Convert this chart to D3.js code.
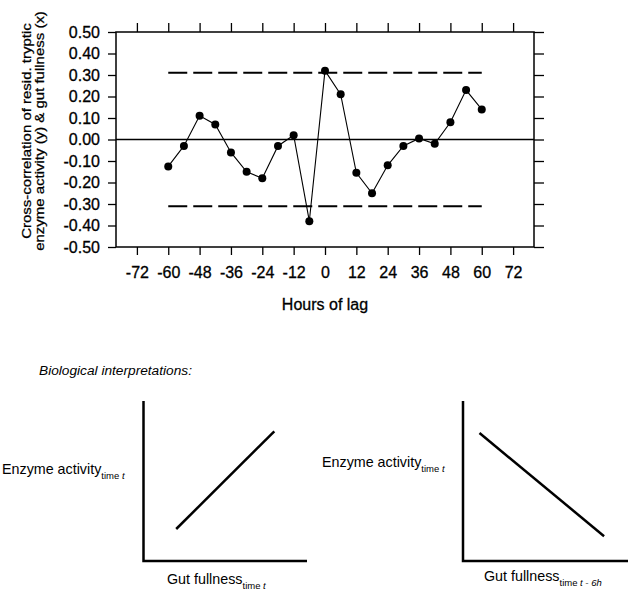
<!DOCTYPE html>
<html>
<head>
<meta charset="utf-8">
<script src="https://cdn.jsdelivr.net/npm/d3@7"></script>
<style>
  html, body { margin: 0; padding: 0; background: #fff; }
  svg { display: block; font-family: "Liberation Sans", Arial, sans-serif; }
  .ink { stroke: #000; stroke-width: 0.3px; }
</style>
</head>
<body>
<svg id="chart" width="640" height="590"></svg>
<script>
// Cross-correlation by lag (hours)
const lags = [-60, -54, -48, -42, -36, -30, -24, -18, -12, -6, 0, 6, 12, 18, 24, 30, 36, 42, 48, 54, 60];
const crossCorr = [-0.125, -0.03, 0.11, 0.07, -0.06, -0.15, -0.18, -0.03, 0.02, -0.38, 0.32, 0.21, -0.155, -0.25, -0.12, -0.03, 0.005, -0.02, 0.08, 0.23, 0.14];
const confidenceBound = 0.31;
const boundLags = [-60, 60];
const xTickValues = [-72, -60, -48, -36, -24, -12, 0, 12, 24, 36, 48, 60, 72];
const yTickValues = [0.5, 0.4, 0.3, 0.2, 0.1, 0, -0.1, -0.2, -0.3, -0.4, -0.5];
const yTitleLines = ["Cross-correlation of resid. tryptic", "enzyme activity (y) & gut fullness (x)"];

// Schematic relationships (unitless 0..1)
const positiveLine = [[0.2, 0.2], [0.8, 0.81]];
const negativeLine = [[0.1, 0.8], [0.855, 0.155]];

const svg = d3.select("#chart");
const fontMain = "16px";

// ---------- Correlogram ----------
const x = d3.scaleLinear().domain([-80, 80]).range([116, 534]);
const y = d3.scaleLinear().domain([-0.5, 0.5]).range([247, 32]);

const plot = svg.append("g");

// axes with outward ticks on all four sides
const axLeft = plot.append("g").attr("transform", `translate(${x(-80)},0)`)
  .call(d3.axisLeft(y).tickValues(yTickValues).tickSize(8).tickPadding(8)
    .tickFormat(d => d.toFixed(2)));
const axRight = plot.append("g").attr("transform", `translate(${x(80)},0)`)
  .call(d3.axisRight(y).tickValues(yTickValues).tickSize(10).tickFormat(""));
const axTop = plot.append("g").attr("transform", `translate(0,${y(0.5)})`)
  .call(d3.axisTop(x).tickValues(xTickValues).tickSize(9).tickFormat(""));
const axBottom = plot.append("g").attr("transform", `translate(0,${y(-0.5)})`)
  .call(d3.axisBottom(x).tickValues(xTickValues).tickSize(8).tickPadding(12)
    .tickFormat(d => String(d)));

[axLeft, axRight, axTop, axBottom].forEach(g => {
  g.select(".domain").remove();
  g.selectAll(".tick line").attr("stroke", "#000").attr("stroke-width", 1.3);
  g.selectAll(".tick text").attr("fill", "#000").attr("class", "ink")
    .style("font-size", fontMain).style("font-family", "Liberation Sans, Arial, sans-serif");
});

// frame
plot.append("rect")
  .attr("x", x(-80)).attr("y", y(0.5))
  .attr("width", x(80) - x(-80)).attr("height", y(-0.5) - y(0.5))
  .attr("fill", "none").attr("stroke", "#000").attr("stroke-width", 1.5);

// zero reference
plot.append("line")
  .attr("x1", x(-80)).attr("x2", x(80))
  .attr("y1", y(0)).attr("y2", y(0))
  .attr("stroke", "#000").attr("stroke-width", 1.5);

// significance bounds
[confidenceBound, -confidenceBound].forEach(b => {
  plot.append("line")
    .attr("x1", x(boundLags[0])).attr("x2", x(boundLags[1]))
    .attr("y1", y(b)).attr("y2", y(b))
    .attr("stroke", "#000").attr("stroke-width", 2)
    .attr("stroke-dasharray", "19,6");
});

// series
const pts = lags.map((l, i) => [l, crossCorr[i]]);
plot.append("path")
  .datum(pts)
  .attr("fill", "none").attr("stroke", "#000").attr("stroke-width", 1.1)
  .attr("d", d3.line().x(d => x(d[0])).y(d => y(d[1])));
plot.selectAll("circle.pt").data(pts).join("circle")
  .attr("class", "pt")
  .attr("cx", d => x(d[0])).attr("cy", d => y(d[1]))
  .attr("r", 4).attr("fill", "#000");

// axis titles
plot.append("text")
  .attr("class", "ink")
  .attr("x", x(0)).attr("y", 310)
  .attr("text-anchor", "middle")
  .style("font-size", "16px")
  .text("Hours of lag");

// two-line rotated title, slightly narrowed across the lines
const yTitleScale = 0.86;
const yTitle = plot.append("text")
  .attr("class", "ink")
  .attr("transform", `translate(0,131) rotate(-90) scale(1,${yTitleScale})`)
  .attr("text-anchor", "middle")
  .style("font-size", "15px");
yTitle.append("tspan").attr("x", 0).attr("y", 31 / yTitleScale).text(yTitleLines[0]);
yTitle.append("tspan").attr("x", 0).attr("y", 44.5 / yTitleScale).text(yTitleLines[1]);

// ---------- Schematic panels ----------
svg.append("text")
  .attr("x", 39).attr("y", 375)
  .style("font-size", "13.7px").style("font-style", "italic")
  .text("Biological interpretations:");

function panel(x0, x1, line, yLab, xLab) {
  const sx = d3.scaleLinear().domain([0, 1]).range([x0, x1]);
  const sy = d3.scaleLinear().domain([0, 1]).range([561, 401]);
  const g = svg.append("g");
  g.append("path")
    .attr("d", `M${sx(0)},${sy(1)}V${sy(0)}H${sx(1)}`)
    .attr("fill", "none").attr("stroke", "#000").attr("stroke-width", 2.5);
  g.append("path")
    .datum(line)
    .attr("fill", "none").attr("stroke", "#000").attr("stroke-width", 2.5)
    .attr("d", d3.line().x(d => sx(d[0])).y(d => sy(d[1])));

  const addLabel = (lab) => {
    const t = g.append("text").attr("x", lab.x).attr("y", lab.y).style("font-size", "14.3px");
    t.append("tspan").text(lab.main);
    const sub = t.append("tspan").attr("dy", 5).style("font-size", "9.5px");
    sub.append("tspan").text(lab.sub[0]);
    sub.append("tspan").style("font-style", "italic").text(lab.sub[1]);
  };
  addLabel(yLab);
  addLabel(xLab);
}

panel(143.5, 307, positiveLine,
  { x: 2, y: 474, main: "Enzyme activity", sub: ["time ", "t"] },
  { x: 167, y: 584, main: "Gut fullness", sub: ["time ", "t"] });
panel(463, 628, negativeLine,
  { x: 322, y: 467, main: "Enzyme activity", sub: ["time ", "t"] },
  { x: 484, y: 581, main: "Gut fullness", sub: ["time ", "t - 6h"] });
</script>
</body>
</html>
